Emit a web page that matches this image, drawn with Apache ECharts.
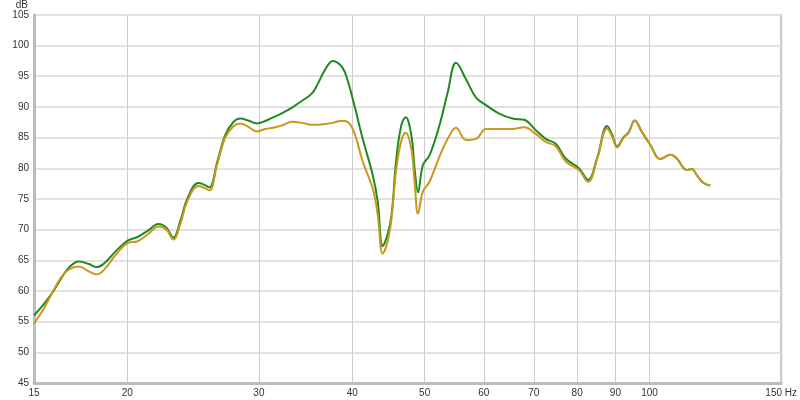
<!DOCTYPE html>
<html><head><meta charset="utf-8">
<script src="https://cdn.jsdelivr.net/npm/echarts@6/dist/echarts.min.js"></script>
<style>html,body{margin:0;padding:0;background:#fff}#c{width:800px;height:400px}</style>
</head><body><div id="c"></div>
<script>
// Frequencies (Hz)
var freq = [15.00,15.42,15.85,16.30,16.70,17.22,17.76,18.20,18.66,19.30,20.02,20.64,21.29,22.02,22.56,23.05,23.56,24.07,24.89,25.36,25.75,26.39,27.04,27.72,28.32,29.01,29.82,30.58,31.34,32.22,33.22,34.26,35.33,35.98,36.76,37.68,38.50,39.09,40.06,41.31,42.60,43.26,43.93,44.61,45.16,45.82,46.53,47.15,47.98,48.47,48.99,49.72,50.75,52.33,53.68,55.08,56.80,58.58,60.40,62.92,65.54,67.94,70.42,72.62,74.88,77.22,80.43,82.76,85.08,87.73,89.08,90.46,92.34,93.78,95.52,97.68,100.24,103.37,106.59,108.77,112.16,113.90,115.66,118.06,120.51];
// Green trace (dB)
var green = [56.0,57.7,59.6,62.0,63.8,64.8,64.4,63.9,64.6,66.5,68.2,68.8,69.8,70.9,70.3,68.7,71.5,75.1,77.6,77.3,76.9,81.1,85.4,87.5,88.1,87.8,87.3,87.7,88.3,89.0,89.9,91.0,92.2,93.8,96.0,97.5,96.9,95.7,91.3,84.8,78.9,74.6,67.3,69.3,72.5,81.6,87.0,88.3,85.4,80.0,76.1,80.5,82.1,87.0,92.4,97.2,94.5,91.5,90.3,88.9,88.1,87.9,86.2,84.8,84.0,81.6,80.0,78.1,81.7,86.9,85.5,83.6,85.1,85.9,87.8,85.9,83.8,81.5,82.2,81.6,79.7,79.9,78.9,77.6,77.2];
// Gold trace (dB)
var gold = [54.7,56.9,59.6,62.2,63.5,64.0,63.2,62.7,63.6,65.9,67.8,68.1,69.2,70.5,70.0,68.4,71.0,74.7,77.1,76.8,76.4,80.7,85.0,86.8,87.3,86.8,86.0,86.4,86.6,87.0,87.6,87.4,87.1,87.1,87.2,87.4,87.7,87.7,86.4,81.1,76.7,72.4,66.1,68.1,72.0,80.0,84.5,85.8,83.2,77.8,72.6,76.2,77.8,81.9,84.8,86.6,84.6,84.8,86.4,86.4,86.4,86.7,85.6,84.3,83.6,81.1,79.7,77.8,81.5,86.5,85.2,83.4,85.0,85.8,87.8,85.9,83.8,81.5,82.2,81.6,79.7,79.9,78.9,77.6,77.2];
// Tick labels
var xTicks = [15,20,30,40,50,60,70,80,90,100,150];
var xUnit = 'Hz';
var yUnit = 'dB';

var L = function(v){ return Math.log10(v); };
var chart = echarts.init(document.getElementById('c'), null, {renderer:'canvas'});
var lab = {color:'#333', fontSize:10, fontFamily:'Liberation Sans, Arial, sans-serif'};
chart.setOption({
  animation:false,
  backgroundColor:'#fff',
  grid:{left:34,right:16,top:12,bottom:17,show:true,borderColor:'#c4c4c4',borderWidth:2},
  xAxis:{type:'value',min:L(15),max:L(150),
    axisLine:{show:true,lineStyle:{color:'#bdbdbd',width:3}},
    axisTick:{show:false,customValues:xTicks.map(L)},
    splitLine:{show:true,lineStyle:{color:'#cccccc',width:1}},
    axisLabel:Object.assign({margin:5,customValues:xTicks.map(L),showMinLabel:true,showMaxLabel:true,
      formatter:function(v){var f=Math.round(Math.pow(10,v)); return f===150? f+' '+xUnit : String(f);}},lab)
  },
  yAxis:{type:'value',min:45,max:105,interval:5,name:yUnit,nameLocation:'end',nameGap:2,
    nameTextStyle:Object.assign({align:'right',padding:[0,6,0,0]},lab),
    axisLine:{show:true,lineStyle:{color:'#bdbdbd',width:3}},
    axisTick:{show:false},
    splitLine:{show:true,lineStyle:{color:'#e2e2e2',width:2}},
    axisLabel:Object.assign({margin:5},lab)
  },
  series:[
    {type:'line',data:freq.map(function(f,i){return [L(f),green[i]];}),smooth:0.4,showSymbol:false,
      lineStyle:{color:'#1f8a1f',width:2},itemStyle:{color:'#1f8a1f'}},
    {type:'line',data:freq.map(function(f,i){return [L(f),gold[i]];}),smooth:0.4,showSymbol:false,
      lineStyle:{color:'#c9981f',width:2},itemStyle:{color:'#c9981f'}}
  ]
});
</script></body></html>
